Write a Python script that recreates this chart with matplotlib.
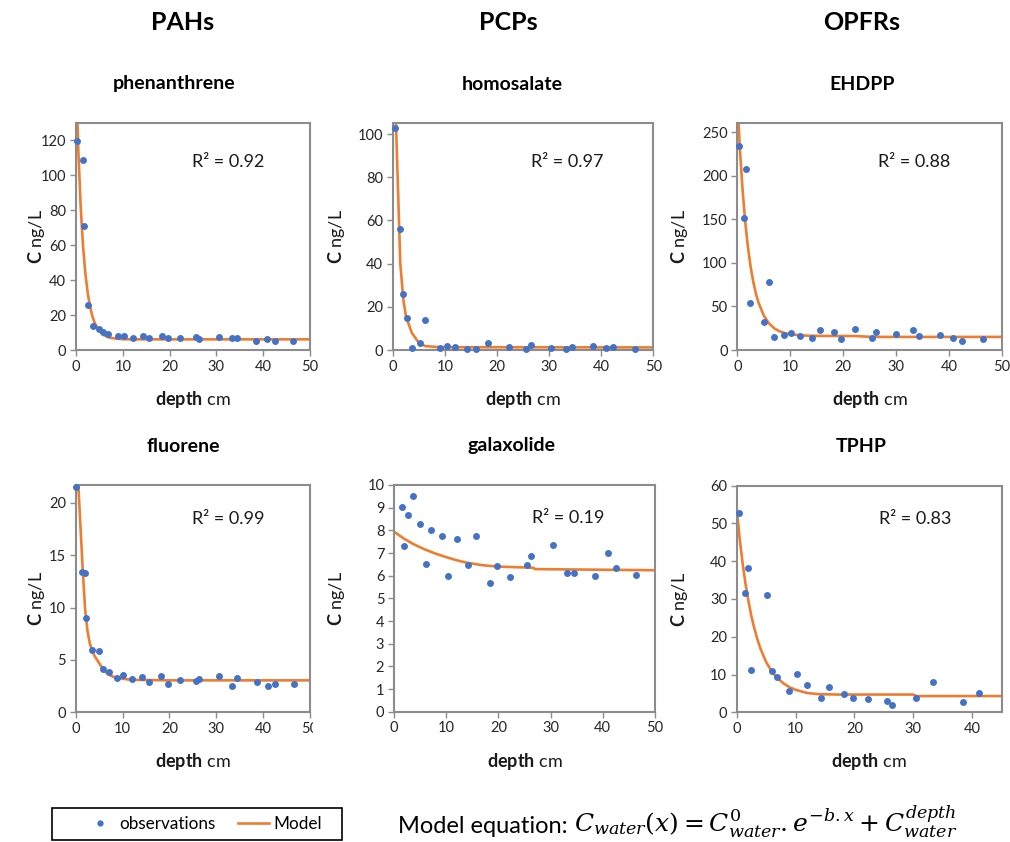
import matplotlib
matplotlib.use('Agg')
import matplotlib.pyplot as plt
from matplotlib.lines import Line2D
from matplotlib.patches import Rectangle
from matplotlib.ticker import MultipleLocator

plt.rcParams['font.family'] = ['Lato', 'DejaVu Sans']
plt.rcParams['mathtext.fontset'] = 'custom'
plt.rcParams['mathtext.rm'] = 'DejaVu Serif'
plt.rcParams['mathtext.it'] = 'DejaVu Serif:italic'
plt.rcParams['mathtext.bf'] = 'Lato:bold'

# ---------------- data ----------------
groups = ['PAHs', 'PCPs', 'OPFRs']
compounds = ['phenanthrene', 'homosalate', 'EHDPP', 'fluorene', 'galaxolide', 'TPHP']
r2_values = ['0.92', '0.97', '0.88', '0.99', '0.19', '0.83']

# observations (depth cm, concentration ng/L)
phen_depth = [0.2, 1.5, 1.7, 2.5, 3.6, 5.0, 5.8, 6.9, 9.0, 10.2, 12.1, 14.4, 15.7, 18.3, 19.6,
              22.2, 25.6, 26.3, 30.6, 33.3, 34.4, 38.4, 40.9, 42.5, 46.4]
phen_conc = [119.5, 109, 71, 25.5, 13.8, 11.8, 10.5, 8.9, 7.8, 8.3, 7.0, 8.2, 6.9, 8.2, 7.0,
             6.9, 7.4, 6.5, 7.4, 7.0, 7.0, 5.2, 6.3, 5.2, 5.2]

homo_depth = [0.4, 1.4, 2.0, 2.6, 3.7, 5.1, 6.2, 9.1, 10.3, 12.0, 14.3, 15.9, 18.2, 22.3,
              25.6, 26.5, 30.3, 33.2, 34.3, 38.5, 40.9, 42.3, 46.4]
homo_conc = [103, 55.9, 25.9, 15.0, 0.9, 3.2, 13.9, 0.8, 1.7, 1.2, 0.6, 0.6, 3.2, 1.2,
             0.6, 2.2, 0.8, 0.6, 1.2, 1.7, 0.8, 1.2, 0.6]

ehdpp_depth = [0.35, 1.3, 1.7, 2.4, 5.0, 6.0, 6.85, 8.85, 10.1, 11.9, 14.1, 15.7, 18.2, 19.6,
               22.2, 25.5, 26.3, 30.1, 33.2, 34.3, 38.3, 40.7, 42.4, 46.4]
ehdpp_conc = [234, 151, 208, 53.4, 32.5, 77.8, 15.2, 17.4, 19.8, 16.0, 13.4, 23.3, 21.0, 12.2,
              24.4, 13.4, 21.0, 18.7, 23.3, 16.0, 17.6, 13.4, 9.9, 12.2]

fluo_depth = [0.0, 1.4, 1.9, 2.3, 3.5, 4.9, 5.9, 7.1, 8.8, 10.2, 12.1, 14.1, 15.7, 18.3, 19.6,
              22.2, 25.6, 26.4, 30.6, 33.3, 34.4, 38.6, 41.1, 42.6, 46.6]
fluo_conc = [21.5, 13.4, 13.3, 9.0, 5.95, 5.85, 4.15, 3.8, 3.3, 3.6, 3.2, 3.4, 2.9, 3.5, 2.7,
             3.1, 3.0, 3.2, 3.5, 2.5, 3.3, 2.9, 2.5, 2.7, 2.7]

gala_depth = [1.6, 2.0, 2.6, 3.6, 5.0, 6.1, 7.0, 9.1, 10.3, 12.1, 14.2, 15.8, 18.3, 19.7,
              22.2, 25.5, 26.3, 30.5, 33.1, 34.5, 38.6, 41.0, 42.5, 46.4]
gala_conc = [9.04, 7.32, 8.66, 9.51, 8.28, 6.51, 8.0, 7.76, 5.99, 7.6, 6.46, 7.76, 5.66, 6.41,
             5.94, 6.47, 6.85, 7.37, 6.10, 6.13, 5.99, 7.0, 6.32, 6.04]

tphp_depth = [0.34, 1.36, 2.0, 2.4, 5.1, 6.0, 6.9, 8.9, 10.2, 11.9, 14.3, 15.7, 18.2, 19.8,
              22.3, 25.6, 26.4, 30.4, 33.4, 38.5, 41.1]
tphp_conc = [52.7, 31.5, 38.1, 11.3, 31.1, 10.9, 9.4, 5.6, 10.2, 7.1, 3.9, 6.8, 4.8, 3.9,
             3.6, 3.1, 1.9, 3.9, 7.9, 2.8, 5.1]

# model curves (depth cm, modelled concentration ng/L)
phen_model_depth = [0, 0.5, 1, 1.5, 2, 2.5, 3, 3.5, 4, 5, 6, 7, 8, 9, 10, 12, 50]
phen_model_conc = [159, 114, 82, 59.6, 43.9, 32.7, 24.8, 19.3, 15.4, 10.7, 8.4, 7.2, 6.7, 6.4,
                   6.2, 6.1, 6.1]

homo_model_depth = [0, 1.4, 2.0, 2.5, 3.6, 5.0, 6.2, 9.0, 50]
homo_model_conc = [150, 40, 23, 15.5, 8.0, 3.2, 1.8, 1.3, 1.2]

ehdpp_model_depth = [0, 0.5, 1, 1.5, 2, 2.5, 3, 3.5, 4, 5, 6, 7, 8, 9, 10, 12, 14, 17, 22.2,
                     25.5, 50]
ehdpp_model_conc = [289, 229.7, 183.3, 147, 118.4, 96.2, 78.8, 65.1, 54.5, 39.6, 30.4, 24.8,
                    21.4, 19.3, 18.0, 16.8, 16.3, 16.1, 16.0, 15.0, 15.0]

fluo_model_depth = [0, 0.5, 1.0, 1.5, 2.0, 2.5, 3.0, 3.5, 4.0, 5.0, 6.0, 7.0, 8.0, 10.0, 12.0,
                    20, 50]
fluo_model_conc = [26, 22.2, 17.9, 13.6, 9.9, 7.8, 6.6, 5.9, 5.4, 4.7, 4.0, 3.6, 3.4, 3.2, 3.1,
                   3.05, 3.05]

gala_model_depth = [0, 2, 4, 6, 8, 10, 12, 14, 17, 20, 26.7, 27, 50]
gala_model_conc = [7.94, 7.62, 7.36, 7.15, 6.97, 6.82, 6.68, 6.57, 6.46, 6.40, 6.35, 6.29, 6.24]

tphp_model_depth = [0, 0.5, 1, 1.5, 2, 2.5, 3, 3.5, 4, 5, 6, 7, 8, 9, 10, 12, 14, 17, 30,
                    30.5, 45]
tphp_model_conc = [53.8, 46.1, 39.5, 34.0, 29.4, 25.4, 22.2, 19.4, 17.0, 13.3, 10.7, 8.9, 7.6,
                   6.6, 5.95, 5.1, 4.8, 4.7, 4.7, 4.3, 4.3]

obs_depths = [phen_depth, homo_depth, ehdpp_depth, fluo_depth, gala_depth, tphp_depth]
obs_concs = [phen_conc, homo_conc, ehdpp_conc, fluo_conc, gala_conc, tphp_conc]
model_depths = [phen_model_depth, homo_model_depth, ehdpp_model_depth,
                fluo_model_depth, gala_model_depth, tphp_model_depth]
model_concs = [phen_model_conc, homo_model_conc, ehdpp_model_conc,
               fluo_model_conc, gala_model_conc, tphp_model_conc]

y_max = [130, 105, 260, 21.7, 10, 60]
y_step = [20, 20, 50, 5, 1, 10]
x_max = [50, 50, 50, 50, 50, 45]

# ---------------- layout ----------------
W, H = 1010, 842
fig = plt.figure(figsize=(W / 100, H / 100), dpi=100)
fig.patch.set_facecolor('white')

rects = [(76, 123, 310, 350), (393, 123.3, 653.3, 350), (737.3, 123.3, 1001.7, 350),
         (75.7, 485, 310, 712.3), (394, 485, 655, 711.7), (736.7, 485.7, 1001.7, 712.3)]
ylab_x = [47, 347, 690, 47, 347, 690]
title_pos = [(174, 84), (512, 84), (862, 84), (183, 446), (512, 446), (861, 446)]
r2_pos = [(0.65, 0.83), (0.67, 0.83), (0.67, 0.83), (0.65, 0.85), (0.667, 0.855), (0.675, 0.855)]

BLUE = '#4472C4'
ORANGE = '#ED7D31'
GRAY = '#8C8C8C'

for i in range(6):
    l, t, r, b = rects[i]
    ax = fig.add_axes([l / W, 1 - b / H, (r - l) / W, (b - t) / H])
    ax.plot(model_depths[i], model_concs[i], color=ORANGE, lw=1.9, zorder=2)
    ax.plot(obs_depths[i], obs_concs[i], 'o', color=BLUE, ms=5, mec='none', zorder=3,
            clip_on=False)
    ax.set_xlim(0, x_max[i])
    ax.set_ylim(0, y_max[i])
    ax.xaxis.set_major_locator(MultipleLocator(10))
    ax.yaxis.set_major_locator(MultipleLocator(y_step[i]))
    for s in ax.spines.values():
        s.set_color(GRAY)
        s.set_linewidth(1.5)
    ax.tick_params(direction='out', length=4, width=1, color=GRAY, labelsize=10.5,
                   labelcolor='#262626', pad=3)
    ax.set_xlabel(r'$\mathbf{depth}$ cm', fontsize=13, color='#1a1a1a')
    ax.xaxis.set_label_coords(0.5, -39 / (b - t))
    ax.set_ylabel(r'$\mathbf{C}$ ng/L', fontsize=13, color='#1a1a1a')
    ax.yaxis.set_label_coords((ylab_x[i] - l) / (r - l), 0.5)
    ax.text(r2_pos[i][0], r2_pos[i][1], 'R\u00b2 = ' + r2_values[i], transform=ax.transAxes,
            ha='center', va='center', fontsize=13, color='#1a1a1a')
    fig.text(title_pos[i][0] / W, 1 - title_pos[i][1] / H, compounds[i], ha='center',
             va='center', fontsize=14, fontweight='bold', color='black')

for g, xc in zip(groups, [183, 508, 862]):
    fig.text(xc / W, 1 - 22 / H, g, ha='center', va='center', fontsize=18,
             fontweight='bold', color='black')

# cover to mimic cut "50" label of fluorene panel
fig.patches.append(Rectangle((313 / W, 1 - 735 / H), 17 / W, 22 / H, transform=fig.transFigure,
                             facecolor='white', edgecolor='none', zorder=10))

# legend with a fixed-size frame
fig.patches.append(Rectangle((52 / W, 1 - 840 / H), 290 / W, 32 / H, transform=fig.transFigure,
                             facecolor='white', edgecolor='black', lw=1.2, zorder=1))
handles = [Line2D([], [], marker='o', ls='none', color=BLUE, ms=4.5, mec='none'),
           Line2D([], [], color=ORANGE, lw=1.9)]
leg = fig.legend(handles, ['observations', 'Model'], loc='center', ncol=2,
                 bbox_to_anchor=(203 / W, 1 - 824 / H), fontsize=12.3, frameon=False,
                 handlelength=1.8, handletextpad=0.25, columnspacing=1.3, borderpad=0)
leg.set_zorder(5)

fig.text(398 / W, 1 - 833 / H, 'Model equation:', ha='left', va='baseline', fontsize=17,
         color='black')
fig.text(574 / W, 1 - 831 / H,
         r'$C_{water}(x) = C^{0}_{water}.e^{-b.x} + C^{depth}_{water}$',
         ha='left', va='baseline', fontsize=18, color='black')

fig.savefig('out.png', dpi=100, facecolor='white')
